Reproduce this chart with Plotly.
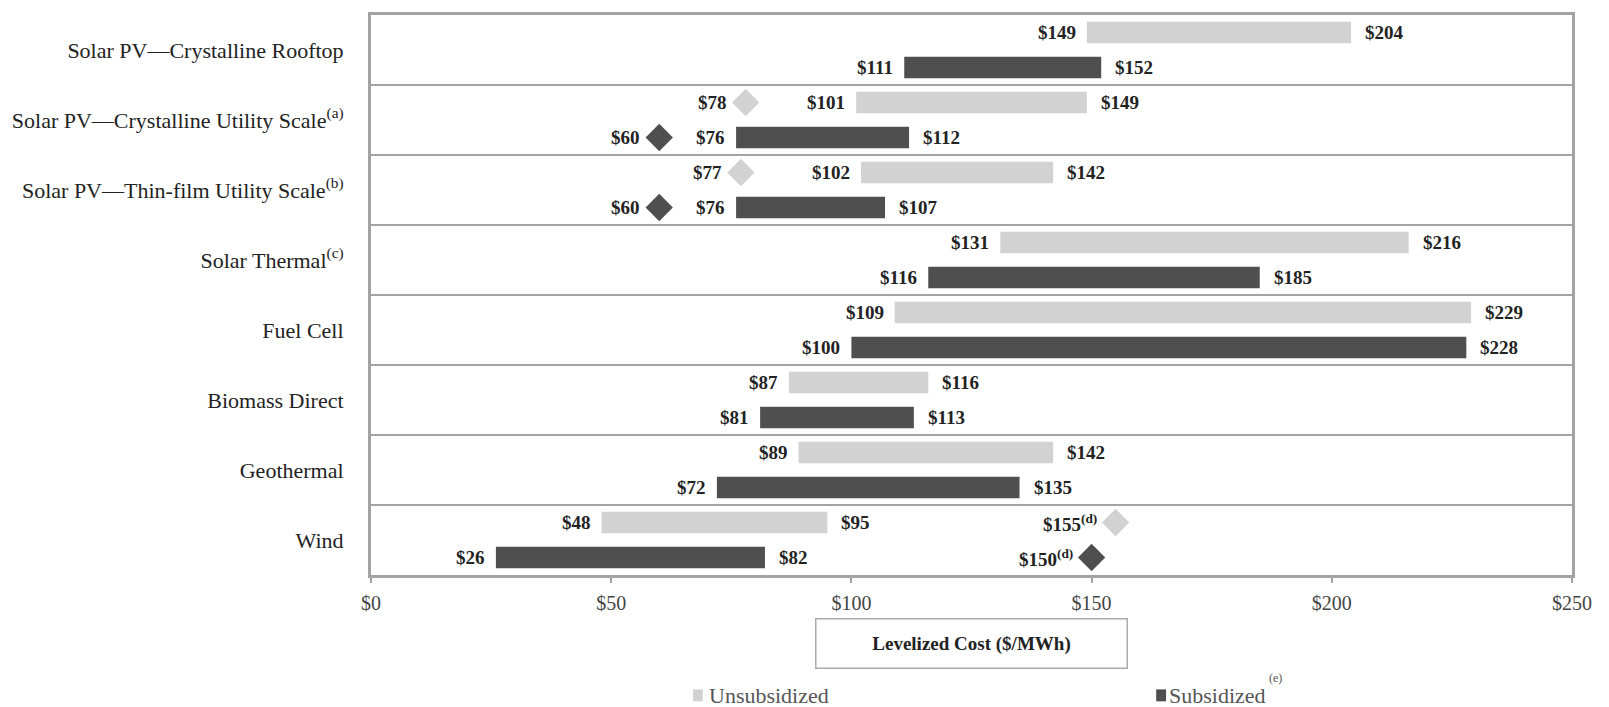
import plotly.graph_objects as go

# Technologies, top to bottom
categories = [
    "Solar PV\u2014Crystalline Rooftop",
    "Solar PV\u2014Crystalline Utility Scale<sup>(a)</sup>",
    "Solar PV\u2014Thin-film Utility Scale<sup>(b)</sup>",
    "Solar Thermal<sup>(c)</sup>",
    "Fuel Cell",
    "Biomass Direct",
    "Geothermal",
    "Wind",
]

# Levelized cost ranges ($/MWh)
unsub_low = [149, 101, 102, 131, 109, 87, 89, 48]
unsub_high = [204, 149, 142, 216, 229, 116, 142, 95]
sub_low = [111, 76, 76, 116, 100, 81, 72, 26]
sub_high = [152, 112, 107, 185, 228, 113, 135, 82]

# Single-point estimates shown as diamonds
unsub_point = [None, 78, 77, None, None, None, None, 155]
sub_point = [None, 60, 60, None, None, None, None, 150]
point_note = ["", "", "", "", "", "", "", "(d)"]

x_ticks = [0, 50, 100, 150, 200, 250]
x_ticklabels = ["$0", "$50", "$100", "$150", "$200", "$250"]

LIGHT = "#d2d2d2"
DARK = "#4f4f4f"
FRAME = "#a3a3a3"
SERIF = "Liberation Serif"

# Plot-area geometry in pixels (used to place paper-referenced extras)
L, R, T, B = 356, 1572, 12, 575


def px_x(x):
    return (x - L) / (R - L)


def px_y(y):
    return (B - y) / (B - T)


n = len(categories)
centers = [n - 0.5 - i for i in range(n)]
y_unsub = [c + 0.25 for c in centers]
y_sub = [c - 0.25 for c in centers]
BAR_W = 0.31

fig = go.Figure()

fig.add_trace(go.Bar(
    name="Unsubsidized", orientation="h",
    y=y_unsub, base=unsub_low,
    x=[h - l for l, h in zip(unsub_low, unsub_high)],
    width=BAR_W, marker=dict(color=LIGHT, line=dict(width=0)),
    hoverinfo="skip",
))
fig.add_trace(go.Bar(
    name="Subsidized", orientation="h",
    y=y_sub, base=sub_low,
    x=[h - l for l, h in zip(sub_low, sub_high)],
    width=BAR_W, marker=dict(color=DARK, line=dict(width=0)),
    hoverinfo="skip",
))
fig.add_trace(go.Scatter(
    x=unsub_point, y=y_unsub, mode="markers",
    marker=dict(symbol="diamond", size=21, color=LIGHT),
    hoverinfo="skip",
))
fig.add_trace(go.Scatter(
    x=sub_point, y=y_sub, mode="markers",
    marker=dict(symbol="diamond", size=21, color=DARK),
    hoverinfo="skip",
))

label_font = dict(family=SERIF, size=19, color="#222222")
annotations = []


def value_label(x, y, text, side, shift=None):
    left = side == "left"
    return dict(x=x, y=y, xref="x", yref="y", text=f"<b>{text}</b>", showarrow=False,
                xanchor="right" if left else "left",
                xshift=shift if shift is not None else (-9 if left else 12),
                yanchor="middle", font=label_font)


for i in range(n):
    annotations.append(value_label(unsub_low[i], y_unsub[i], f"${unsub_low[i]}", "left"))
    annotations.append(value_label(unsub_high[i], y_unsub[i], f"${unsub_high[i]}", "right"))
    annotations.append(value_label(sub_low[i], y_sub[i], f"${sub_low[i]}", "left"))
    annotations.append(value_label(sub_high[i], y_sub[i], f"${sub_high[i]}", "right"))
    for pts, ys in ((unsub_point, y_unsub), (sub_point, y_sub)):
        v = pts[i]
        if v is not None:
            note = f"<sup>{point_note[i]}</sup>" if point_note[i] else ""
            annotations.append(value_label(v, ys[i], f"${v}{note}", "left", shift=-17))

# Boxed axis title
annotations.append(dict(
    x=0.5, y=px_y(644), xref="paper", yref="paper",
    xanchor="center", yanchor="middle",
    text="<b>Levelized Cost ($/MWh)</b>", showarrow=False,
    font=dict(family=SERIF, size=19, color="#222222"),
    width=306, height=44, borderpad=2,
    bordercolor="#aaaaaa", borderwidth=1.5, bgcolor="white",
))

# Legend entries
legend_font = dict(family=SERIF, size=22, color="#555555")
for sx, label in ((696, "Unsubsidized"), (1162, "Subsidized")):
    annotations.append(dict(x=px_x(sx), y=px_y(696), xref="paper", yref="paper",
                            text=label, showarrow=False, xanchor="left", yanchor="middle",
                            font=legend_font))
annotations.append(dict(x=px_x(1263), y=px_y(679), xref="paper", yref="paper",
                        text="(e)", showarrow=False, xanchor="left", yanchor="middle",
                        font=dict(family=SERIF, size=12, color="#555555")))

shapes = []
for sx, col in ((682, LIGHT), (1151, DARK)):
    shapes.append(dict(type="rect", xref="paper", yref="paper",
                       x0=px_x(sx), x1=px_x(sx + 10),
                       y0=px_y(702), y1=px_y(690),
                       fillcolor=col, line=dict(width=0)))

# Row separators
for k in range(1, n):
    shapes.append(dict(type="line", xref="paper", yref="y", x0=0, x1=1, y0=k, y1=k,
                       line=dict(color=FRAME, width=2), layer="below"))

fig.update_layout(
    width=1609, height=707,
    margin=dict(l=L, r=1609 - R, t=T, b=707 - B),
    plot_bgcolor="white", paper_bgcolor="white",
    barmode="overlay", showlegend=False,
    annotations=annotations, shapes=shapes,
    font=dict(family=SERIF),
)
fig.update_xaxes(
    range=[0, 250], tickvals=x_ticks, ticktext=x_ticklabels,
    showgrid=False, zeroline=False,
    ticks="outside", ticklen=5, tickcolor=FRAME, tickwidth=2,
    showline=True, mirror=True, linecolor=FRAME, linewidth=3,
    tickfont=dict(family=SERIF, size=20, color="#444444"),
    ticklabelstandoff=3, fixedrange=True,
)
fig.update_yaxes(
    range=[0, n], tickvals=centers, ticktext=categories,
    showgrid=False, zeroline=False, ticks="",
    showline=True, mirror=True, linecolor=FRAME, linewidth=3,
    tickfont=dict(family=SERIF, size=22, color="#222222"),
    ticklabelstandoff=20, fixedrange=True,
)

fig.write_html("out.html")
